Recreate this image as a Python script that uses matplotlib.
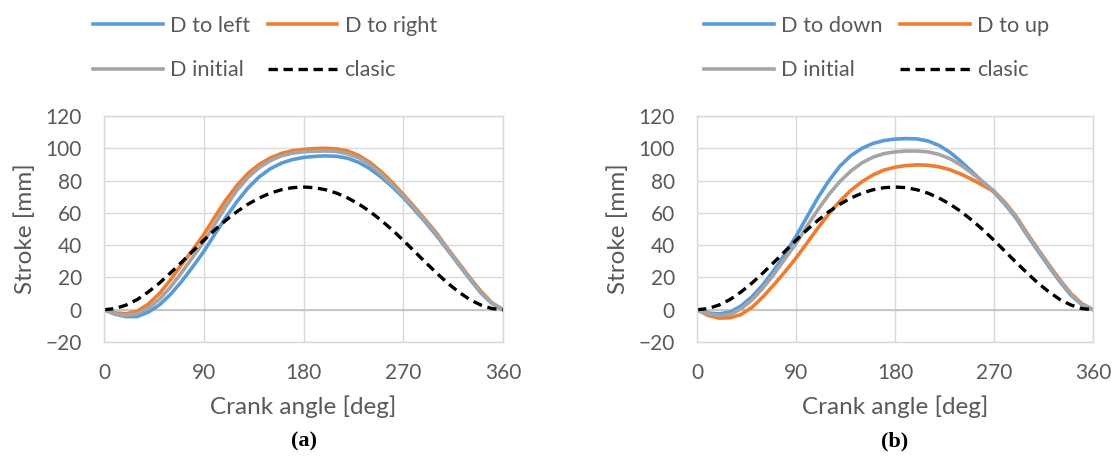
#Crank stroke vs angle, two panels (a) and (b)
import matplotlib.pyplot as plt

plt.rcParams['font.family'] = ['Lato', 'DejaVu Sans']

# Data (every 10 deg)
angle = [0, 10, 20, 30, 40, 50, 60, 70, 80, 90, 100, 110, 120, 130, 140, 150,
         160, 170, 180, 190, 200, 210, 220, 230, 240, 250, 260, 270, 280, 290,
         300, 310, 320, 330, 340, 350, 360]

clasic = [0, 0.7, 2.9, 6.3, 11.0, 16.5, 22.8, 29.4, 36.2, 43, 49.5, 55.4, 60.8,
          65.4, 69.2, 72.2, 74.3, 75.6, 76, 75.6, 74.3, 72.2, 69.2, 65.4, 60.8,
          55.4, 49.5, 43, 36.2, 29.4, 22.8, 16.5, 11.0, 6.3, 2.9, 0.7, 0]

# panel (a)
a_initial = [0, -2.6, -3.5, -2.5, 1.0, 6.5, 14, 23, 32.5, 42, 53, 64, 74, 82,
             88, 92.3, 95.3, 97, 97.8, 98.2, 98.3, 98, 96.5, 94, 89.8, 84.2,
             77.5, 70.5, 62.8, 55, 47, 37.5, 28.5, 19.5, 11, 4, 0]
a_left = [0, -2.8, -4.3, -4.2, -1.5, 3, 9.5, 17.5, 26.5, 36, 46.8, 57.3, 67,
          75.5, 82.3, 87.3, 90.8, 93, 94.3, 95, 95.3, 95, 93.8, 91.2, 87.3,
          82.2, 76.2, 69.5, 62, 54.2, 46, 37, 28, 19, 10.5, 3.8, 0]
a_right = [0, -2.0, -2.5, -1, 3.5, 10, 18.5, 28, 37, 46.5, 57.5, 68, 77, 84.5,
           90, 94, 96.8, 98.5, 99.3, 99.8, 100, 99.6, 98.3, 95.5, 91.2, 85.6,
           78.8, 71.5, 63.7, 55.7, 47.5, 38, 29, 20, 11.5, 4.3, 0]

# panel (b)
b_initial = [0, -2.5, -3.5, -3, 0.5, 6, 13.5, 22, 31.5, 41, 51.8, 62, 71.5,
             79.5, 86, 91, 94.5, 96.7, 97.8, 98.3, 98.3, 97.8, 96.2, 93.5,
             89.5, 84.5, 79.2, 73.5, 66, 57.5, 47, 37, 27.3, 18, 9.6, 3.4, 0]
b_down = [0, -2.0, -2.6, -1.5, 2.3, 8, 15.5, 24.5, 34.5, 45.5, 57.5, 69.5, 80,
          89, 95.5, 100, 103, 104.8, 105.7, 106, 105.8, 104.5, 101.8, 97.5,
          91.8, 85.5, 79, 72.8, 65.3, 56.8, 46.3, 36.3, 26.6, 17.3, 9, 3, 0]
b_up = [0, -3.5, -5.2, -5, -3, 1.5, 8, 15.5, 23.5, 32, 41.3, 50.7, 59.5, 67.3,
        74, 79.3, 83.5, 86.5, 88.3, 89.3, 89.7, 89.5, 88.5, 86.7, 84, 80.7,
        77, 73.2, 66.5, 58, 47.5, 37.5, 27.8, 18.5, 10, 3.7, 0]

blue = '#5B9BD5'
orange = '#ED7D31'
gray = '#A5A5A5'
txt = '#595959'

fig = plt.figure(figsize=(11.15, 4.59), dpi=100)
W, H = 1115, 459
ax_a = fig.add_axes([104 / W, 1 - 342 / H, 399 / W, 226 / H])
ax_b = fig.add_axes([697 / W, 1 - 342 / H, 396 / W, 226 / H])


def draw(ax, s1, s2, s3, names, pos, tag):
    ax.plot(angle, s1, color=blue, lw=2.6, label=names[0])
    ax.plot(angle, s2, color=orange, lw=2.6, label=names[1])
    ax.plot(angle, s3, color=gray, lw=2.6, label='D initial')
    ax.plot(angle, clasic, color='black', lw=2.4, dashes=(2.8, 1.7), label='clasic')
    ax.axhline(0, color='#BFBFBF', lw=1.2, zorder=1)

    ax.set_xlim(0, 360)
    ax.set_ylim(-20, 120)
    ax.set_xticks([0, 90, 180, 270, 360])
    ax.set_yticks([-20, 0, 20, 40, 60, 80, 100, 120])
    ax.grid(True, color='#D9D9D9', lw=1)
    ax.set_axisbelow(True)
    for sp in ax.spines.values():
        sp.set_color('#D9D9D9')
        sp.set_linewidth(1)
    ax.tick_params(length=0, labelsize=15, labelcolor=txt)
    ax.tick_params(axis='y', pad=16)
    ax.tick_params(axis='x', pad=15)
    ax.set_xlabel('Crank angle [deg]', fontsize=17.5, color=txt, labelpad=9)
    ax.set_ylabel('Stroke [mm]', fontsize=17.5, color=txt, labelpad=7)

    # legend: row 1 = two moved positions, row 2 = initial + clasic
    h, l = ax.get_legend_handles_labels()
    order = [0, 2, 1, 3]
    ax.legend([h[i] for i in order], [l[i] for i in order], ncol=2,
              loc='upper left', bbox_to_anchor=(pos / W, 1 - 16 / H),
              bbox_transform=fig.transFigure, frameon=False, fontsize=15.7,
              handlelength=3.2, handletextpad=0.33, columnspacing=0.8,
              labelspacing=1.12, borderpad=0, borderaxespad=0, labelcolor=txt)

    fig.text((ax.get_position().x0 + ax.get_position().x1) / 2, 1 - 441 / H,
             '(' + tag + ')', ha='center', va='center', fontsize=16,
             family='Liberation Serif', fontweight='bold')


draw(ax_a, a_left, a_right, a_initial, ['D to left', 'D to right'], 93, 'a')
draw(ax_b, b_down, b_up, b_initial, ['D to down', 'D to up'], 704, 'b')

plt.savefig('out.png', dpi=100)
